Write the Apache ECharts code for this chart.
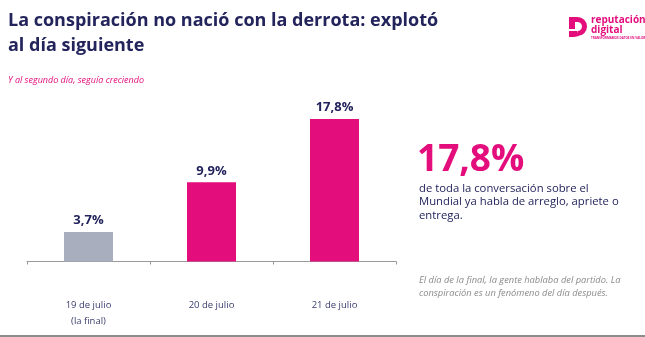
<!DOCTYPE html>
<html>
<head>
<meta charset="utf-8">
<script src="https://cdn.jsdelivr.net/npm/echarts@6/dist/echarts.min.js"></script>
<style>
  html, body { margin: 0; padding: 0; background: #fff; }
  #chart { width: 645px; height: 337px; }
</style>
</head>
<body>
<div id="chart"></div>
<script>
const categories = ["19 de julio\n(la final)", "20 de julio", "21 de julio"];
const shares = [3.7, 9.9, 17.8];
const barColors = ["#a9aebf", "#e30d7c", "#e30d7c"];

const navy = "#23245c";
const pink = "#e30d7c";
const font = "'Open Sans', sans-serif";

const chart = echarts.init(document.getElementById("chart"));

const option = {
  backgroundColor: "#fff",
  animation: false,
  grid: { left: 27, right: 249, top: 101.5, bottom: 75.5 },
  xAxis: {
    type: "category",
    data: categories,
    axisLine: { lineStyle: { color: "#9a9a9a", width: 1 } },
    axisTick: { show: true, length: 3, lineStyle: { color: "#9a9a9a" } },
    axisLabel: {
      margin: 36,
      color: "#3a3c6c",
      fontFamily: font,
      fontSize: 9.5,
      lineHeight: 16
    }
  },
  yAxis: {
    type: "value",
    min: 0,
    max: 20,
    show: false
  },
  series: [
    {
      type: "bar",
      barWidth: 49,
      data: shares.map((v, i) => ({ value: v, itemStyle: { color: barColors[i] } })),
      label: {
        show: true,
        position: "top",
        distance: 5,
        color: navy,
        fontFamily: font,
        fontWeight: "bold",
        fontSize: 13,
        formatter: (p) => String(p.value).replace(".", ",") + "%"
      }
    }
  ],
  graphic: [
    {
      type: "text", left: 8, top: 8,
      style: {
        text: "La conspiración no nació con la derrota: explotó\nal día siguiente",
        fill: navy, font: "bold 18px " + font, lineHeight: 25
      }
    },
    {
      type: "text", left: 8, top: 76,
      style: {
        text: "Y al segundo día, seguía creciendo",
        fill: pink, font: "italic 9px " + font
      }
    },
    // logo mark
    { type: "rect", shape: { x: 569, y: 17, width: 6, height: 12 }, style: { fill: pink } },
    { type: "rect", shape: { x: 569, y: 17, width: 9, height: 5 }, style: { fill: pink } },
    {
      type: "arc",
      shape: { cx: 577.5, cy: 26.5, r: 7, startAngle: -Math.PI / 2, endAngle: Math.PI / 2 },
      style: { stroke: pink, lineWidth: 5, fill: null }
    },
    {
      type: "polygon",
      shape: { points: [[577, 31], [579, 36], [574, 37], [569, 37], [569, 31], [574, 31]] },
      style: { fill: pink }
    },
    {
      type: "text", left: 591, top: 15,
      style: { text: "reputación\ndigital", fill: pink, font: "bold 10px " + font, lineHeight: 10 }
    },
    {
      type: "text", left: 591, top: 37,
      style: { text: "TRANSFORMAMOS DATOS EN VALOR", fill: pink, font: "bold 3px " + font }
    },
    {
      type: "text", left: 417, top: 142,
      style: { text: "17,8%", fill: pink, font: "bold 37px " + font }
    },
    {
      type: "text", left: 419, top: 182,
      style: {
        text: "de toda la conversación sobre el\nMundial ya habla de arreglo, apriete o\nentrega.",
        fill: navy, font: "11.3px " + font, lineHeight: 13.5
      }
    },
    {
      type: "text", left: 419, top: 274,
      style: {
        text: "El día de la final, la gente hablaba del partido. La\nconspiración es un fenómeno del día después.",
        fill: "#8a8a8a", font: "italic 9.3px " + font, lineHeight: 13
      }
    },
    {
      type: "rect",
      shape: { x: 0, y: 335, width: 645, height: 2 },
      style: { fill: "#8c8c8c" }
    }
  ]
};

chart.setOption(option);
</script>
</body>
</html>
